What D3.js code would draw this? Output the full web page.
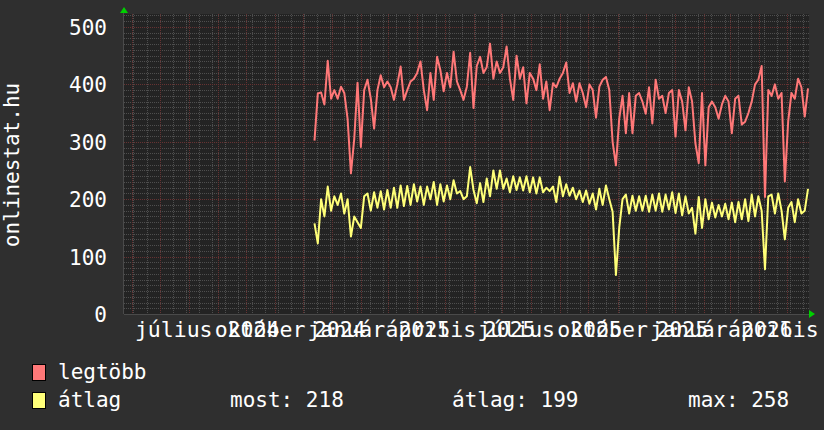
<!DOCTYPE html>
<html>
<head>
<meta charset="utf-8">
<script src="https://cdn.jsdelivr.net/npm/d3@7"></script>
<style>
  body { margin: 0; background: #2f2f2f; }
  text { font-family: "DejaVu Sans Mono", monospace; fill: #ffffff; }
</style>
</head>
<body>
<svg width="824" height="430"></svg>
<script>
// time window of the graph and first sample
const DOMAIN_START = new Date(2024, 4, 24)
const DOMAIN_END = new Date(2026, 4, 24)
const SERIES_START = new Date(2024, 11, 13)
const STEP_DAYS = 3.53

// legtöbb (max) - two samples per week
const legtobb = [
  302, 384, 386, 365, 441, 375, 390, 375, 396, 385,
  340, 245, 305, 403, 291, 390, 408, 375, 323, 390,
  416, 395, 405, 395, 373, 400, 431, 373, 390, 405,
  410, 420, 440, 390, 355, 420, 373, 448, 425, 388,
  420, 395, 457, 405, 390, 373, 396, 455, 359, 432,
  448, 420, 430, 471, 410, 440, 420, 430, 466, 410,
  373, 450, 410, 430, 367, 420, 410, 390, 435, 375,
  405, 355, 402, 395, 410, 420, 438, 385, 402, 370,
  402, 385, 360, 400, 390, 342, 396, 408, 413, 390,
  300, 259, 340, 380, 315, 385, 315, 380, 385, 370,
  349, 395, 332, 408, 375, 380, 350, 385, 390, 309,
  390, 370, 320, 395, 370, 297, 263, 385, 259, 360,
  370, 360, 340, 365, 380, 370, 315, 375, 380, 330,
  335, 350, 370, 400, 408, 432, 204, 390, 380, 400,
  375, 385, 231, 335, 385, 375, 410, 395, 344, 393
]

// átlag (average) - two samples per week
const atlag = [
  158, 123, 200, 170, 222, 180, 205, 190, 210, 175,
  200, 135, 170, 160, 150, 205, 210, 180, 212, 185,
  214, 182, 216, 185, 220, 185, 224, 188, 223, 190,
  226, 196, 222, 190, 222, 200, 230, 190, 226, 196,
  224, 200, 233, 210, 214, 200, 205, 256, 216, 193,
  228, 195, 236, 205, 250, 218, 250, 218, 236, 212,
  240, 216, 238, 215, 240, 212, 238, 210, 238, 212,
  220, 214, 222, 195, 239, 205, 226, 206, 220, 200,
  215, 195, 215, 192, 210, 182, 218, 190, 224, 200,
  178, 68, 150, 200, 208, 175, 206, 180, 205, 180,
  206, 178, 208, 180, 210, 178, 208, 182, 212, 176,
  210, 172, 205, 175, 185, 140, 204, 150, 200, 165,
  194, 168, 190, 170, 192, 165, 194, 160, 195, 165,
  200, 162, 208, 170, 205, 180, 78, 205, 208, 175,
  210, 180, 130, 185, 195, 160, 200, 175, 180, 218
]

const yTicks = [0, 100, 200, 300, 400, 500]
const monthDates = ["2024-07-16", "2024-10-16", "2025-01-16", "2025-04-16",
                    "2025-07-16", "2025-10-16", "2026-01-16", "2026-04-16"]
const monthNames = ["július", "október", "január", "április",
                    "július", "október", "január", "április"]
const yearDates = ["2024-10-09", "2025-01-09", "2025-04-09", "2025-07-09",
                   "2025-10-09", "2026-01-09", "2026-04-09"]
const yearNames = ["2024", "2024", "2025", "2025", "2025", "2025", "2026"]

const seriesNames = ["legtöbb", "átlag"]
const seriesColors = ["#ff7878", "#ffff78"]
const statLabels = ["most: 218", "átlag: 199", "max: 258"]

const PLOT_L = 124, PLOT_R = 809, PLOT_T = 14, PLOT_B = 314

const svg = d3.select("svg")

const x = d3.scaleTime().domain([DOMAIN_START, DOMAIN_END]).range([PLOT_L, PLOT_R])
const y = d3.scaleLinear().domain([0, 522.6]).range([PLOT_B, PLOT_T])

const parse = d3.timeParse("%Y-%m-%d")
const dateAt = i => d3.timeHour.offset(SERIES_START, Math.round(i * STEP_DAYS * 24))

// plot background
svg.append("rect")
    .attr("x", PLOT_L)
    .attr("y", PLOT_T)
    .attr("width", PLOT_R - PLOT_L)
    .attr("height", PLOT_B - PLOT_T)
    .attr("fill", "#232323")

const grid = svg.append("g").attr("shape-rendering", "crispEdges")

// minor horizontal grid
grid.selectAll("line.hmin")
    .data(d3.range(0, 521, 10).filter(v => v % 100 !== 0))
    .enter().append("line")
    .attr("x1", PLOT_L).attr("x2", PLOT_R)
    .attr("y1", d => Math.round(y(d)) + 0.5)
    .attr("y2", d => Math.round(y(d)) + 0.5)
    .attr("stroke", "#4e4e4e")
    .attr("stroke-dasharray", "1,1")

// minor vertical grid
grid.selectAll("line.vmin")
    .data(d3.timeMonday.every(2).range(DOMAIN_START, DOMAIN_END))
    .enter().append("line")
    .attr("x1", d => Math.round(x(d)) + 0.5)
    .attr("x2", d => Math.round(x(d)) + 0.5)
    .attr("y1", PLOT_T).attr("y2", PLOT_B)
    .attr("stroke", "#4e4e4e")
    .attr("stroke-dasharray", "1,1")

// major grid
grid.selectAll("line.hmaj")
    .data(yTicks.filter(v => v > 0))
    .enter().append("line")
    .attr("x1", PLOT_L).attr("x2", PLOT_R)
    .attr("y1", d => Math.round(y(d)) + 0.5)
    .attr("y2", d => Math.round(y(d)) + 0.5)
    .attr("stroke", "#663232")
    .attr("stroke-dasharray", "1,1")

grid.selectAll("line.vmaj")
    .data(d3.timeMonth.range(DOMAIN_START, DOMAIN_END))
    .enter().append("line")
    .attr("x1", d => Math.round(x(d)) + 0.5)
    .attr("x2", d => Math.round(x(d)) + 0.5)
    .attr("y1", PLOT_T).attr("y2", PLOT_B)
    .attr("stroke", "#663232")
    .attr("stroke-dasharray", "1,1")

// axes
svg.append("line")
    .attr("x1", PLOT_L - 0.5).attr("x2", PLOT_L - 0.5)
    .attr("y1", PLOT_T - 2).attr("y2", PLOT_B)
    .attr("stroke", "#4a4a4a")
svg.append("line")
    .attr("x1", PLOT_L).attr("x2", PLOT_R + 3)
    .attr("y1", PLOT_B + 0.5).attr("y2", PLOT_B + 0.5)
    .attr("stroke", "#4a4a4a")

svg.append("path")
    .attr("d", `M${PLOT_L - 4},${PLOT_T - 1}L${PLOT_L},${PLOT_T - 7}L${PLOT_L + 4},${PLOT_T - 1}Z`)
    .attr("fill", "#00d000")
svg.append("path")
    .attr("d", `M${PLOT_R},${PLOT_B - 4}L${PLOT_R + 6},${PLOT_B}L${PLOT_R},${PLOT_B + 4}Z`)
    .attr("fill", "#00d000")

// data lines
const line = d3.line()
    .x((d, i) => x(dateAt(i)))
    .y(d => y(d))

;[legtobb, atlag].forEach((vals, k) => {
    svg.append("path")
        .datum(vals)
        .attr("d", line)
        .attr("fill", "none")
        .attr("stroke", seriesColors[k])
        .attr("stroke-width", 2)
        .attr("stroke-linejoin", "round")
})

// y tick labels
svg.selectAll("text.ytick")
    .data(yTicks)
    .enter().append("text")
    .attr("x", 107)
    .attr("y", d => y(d) + 8)
    .attr("text-anchor", "end")
    .attr("font-size", 21)
    .text(d => d)

// x labels (months and overlapping years)
svg.selectAll("text.month")
    .data(monthDates)
    .enter().append("text")
    .attr("x", d => x(parse(d)))
    .attr("y", 337)
    .attr("text-anchor", "middle")
    .attr("font-size", 21.5)
    .text((d, i) => monthNames[i])

svg.selectAll("text.year")
    .data(yearDates)
    .enter().append("text")
    .attr("x", d => x(parse(d)))
    .attr("y", 337)
    .attr("text-anchor", "middle")
    .attr("font-size", 21.5)
    .text((d, i) => yearNames[i])

// vertical title
svg.append("text")
    .attr("transform", "translate(19,165) rotate(-90)")
    .attr("text-anchor", "middle")
    .attr("font-size", 21)
    .text("onlinestat.hu")

// legend
seriesNames.forEach((name, k) => {
    const base = 379 + k * 28
    svg.append("rect")
        .attr("x", 32.5).attr("y", base - 14.5)
        .attr("width", 13).attr("height", 16)
        .attr("fill", seriesColors[k])
        .attr("stroke", "#000")
    svg.append("text")
        .attr("x", 58).attr("y", base)
        .attr("font-size", 21)
        .text(name)
})

const statX = [230, 452, 688]
statLabels.forEach((s, i) => {
    svg.append("text")
        .attr("x", statX[i]).attr("y", 407)
        .attr("font-size", 21)
        .text(s)
})
</script>
</body>
</html>
